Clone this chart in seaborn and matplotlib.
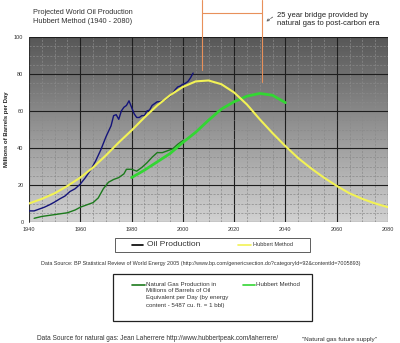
import matplotlib
matplotlib.use("Agg")
import matplotlib.pyplot as plt
import matplotlib.colors as mcolors
from matplotlib.lines import Line2D
from matplotlib.patches import Rectangle
import numpy as np
import pandas as pd
import seaborn as sns

# ---------------- data ----------------
oil_years = [1940, 1942, 1944, 1946, 1948, 1950, 1952, 1954, 1956, 1958, 1960, 1962, 1964,
             1966, 1968, 1970, 1972, 1973, 1974, 1975, 1976, 1977, 1978, 1979, 1980, 1981,
             1982, 1983, 1984, 1985, 1986, 1987, 1988, 1989, 1990, 1991, 1992, 1993, 1994,
             1995, 1996, 1997, 1998, 1999, 2000, 2001, 2002, 2003, 2004]
oil_values = [6, 6, 7, 8, 9.3, 10.8, 12.5, 14, 16.5, 18, 20.5, 24, 28,
              33, 39, 46, 52, 57.5, 58, 55.5, 60, 62, 63, 65.5, 62, 58.5,
              56.5, 56.5, 57.5, 57.5, 60, 60.5, 63, 64, 65, 65, 65.5, 66, 67,
              68, 69.5, 71.5, 73, 73.5, 74.5, 75, 76, 78, 80.5]

hub_years = [1940, 1945, 1950, 1955, 1960, 1965, 1970, 1975, 1980, 1985, 1990, 1995, 2000,
             2005, 2010, 2015, 2020, 2025, 2030, 2035, 2040, 2045, 2050, 2055, 2060, 2065,
             2070, 2075, 2080]
hub_values = [10, 12.5, 15.5, 19.5, 24, 29.5, 36, 43, 49.5, 56.5, 63, 68.5, 73,
              76, 76.5, 74.5, 70, 63.5, 55.5, 48, 41, 34.5, 29, 24, 19.5, 15.5,
              12.5, 10, 8]

gas_years = [1942, 1945, 1950, 1955, 1958, 1960, 1962, 1965, 1967, 1969, 1971, 1973, 1975,
             1977, 1978, 1980, 1982, 1984, 1986, 1988, 1990, 1992, 1994, 1996, 1998, 2000]
gas_values = [2, 3, 4, 5, 6.5, 8, 9, 10.5, 13, 18, 21.5, 23, 24,
              26, 28.5, 28.5, 27.5, 29.5, 32, 35, 37.5, 37.5, 38.5, 39.5, 42, 44]

gas_hub_years = [1980, 1985, 1990, 1995, 2000, 2005, 2010, 2015, 2020, 2025, 2030, 2035, 2040]
gas_hub_values = [24, 28, 32.5, 37, 43, 48.5, 55, 61, 65, 68, 69.5, 68.5, 64.5]

x_ticks = [1940, 1960, 1980, 2000, 2020, 2040, 2060, 2080]
y_ticks = [0, 20, 40, 60, 80, 100]

title_text = "Projected World Oil Production\nHubbert Method (1940 - 2080)"
y_label = "Millions of Barrels per Day"
bridge_text = "25 year bridge provided by\nnatural gas to post-carbon era"
source_oil = ("Data Source: BP Statistical Review of World Energy 2005 "
              "(http://www.bp.com/genericsection.do?categoryId=92&contentId=7005893)")
source_gas = "Data Source for natural gas: Jean Laherrere http://www.hubbertpeak.com/laherrere/"
gas_quote = "\"Natural gas future supply\""
gas_label = ("Natural Gas Production in\nMillions of Barrels of Oil\n"
             "Equivalent per Day (by energy\ncontent - 5487 cu. ft. = 1 bbl)")

# ---------------- style ----------------
sns.set_style("white")
plt.rcParams['font.family'] = ['Liberation Sans', 'DejaVu Sans']

W, H = 400, 343
fig = plt.figure(figsize=(W / 100, H / 100), dpi=100)
fig.patch.set_facecolor("white")


def fx(px):
    return px / W


def fy(py):
    return 1 - py / H


L, R, T, B = 29, 388, 37, 222
ax = fig.add_axes([fx(L), fy(B), (R - L) / W, (B - T) / H])

# gradient background
cmap = mcolors.LinearSegmentedColormap.from_list("bg", ["#d2d2d2", "#575757"])
grad = np.linspace(0, 1, 256).reshape(-1, 1)
ax.imshow(grad, extent=[0, 1, 0, 1], transform=ax.transAxes, aspect="auto",
          cmap=cmap, origin="lower", zorder=0)

df_oil = pd.DataFrame({"year": oil_years, "value": oil_values})
df_hub = pd.DataFrame({"year": hub_years, "value": hub_values})
df_gas = pd.DataFrame({"year": gas_years, "value": gas_values})
df_gh = pd.DataFrame({"year": gas_hub_years, "value": gas_hub_values})

c_oil = "#14147a"
c_hub = "#f2f255"
c_gas = "#1c7a1c"
c_gh = "#33d633"

sns.lineplot(data=df_gas, x="year", y="value", ax=ax, color=c_gas, lw=1.0, zorder=3)
sns.lineplot(data=df_gh, x="year", y="value", ax=ax, color=c_gh, lw=2.0, zorder=3)
sns.lineplot(data=df_oil, x="year", y="value", ax=ax, color=c_oil, lw=1.0, zorder=4)
sns.lineplot(data=df_hub, x="year", y="value", ax=ax, color=c_hub, lw=1.5, zorder=5)

ax.set_xlim(1940, 2080)
ax.set_ylim(0, 100)
ax.set_xticks(x_ticks)
ax.set_yticks(y_ticks)
ax.set_xticks(np.arange(1940, 2081, 5), minor=True)
ax.set_yticks(np.arange(0, 101, 5), minor=True)
ax.grid(which="major", color="#1e1e1e", lw=0.8, ls="-")
ax.grid(which="minor", color="#8a8a8a", lw=0.5, ls=(0, (3, 2)))
for line in ax.get_xgridlines() + ax.get_ygridlines():
    line.set_zorder(1)
ax.tick_params(axis="both", which="major", labelsize=4, colors="#333333",
               length=2, width=0.6, pad=2)
ax.tick_params(axis="both", which="minor", length=0)
ax.tick_params(axis="x", length=0, pad=3.5)
ax.set_xlabel("")
ax.set_ylabel(y_label, fontsize=4.3, fontweight="bold", color="#222222")
ax.yaxis.set_label_coords(-0.055, 0.5)
for side in ["top", "right", "bottom"]:
    ax.spines[side].set_visible(False)
ax.spines["left"].set_color("#333333")
ax.spines["left"].set_linewidth(0.6)

# title
fig.text(fx(83), fy(17), title_text, ha="center", va="center",
         fontsize=5.3, color="#333333", linespacing=1.3)

# bridge annotation (orange bracket)
orange = "#e8905a"
x1, x2 = 201.7, 261.7
fig.add_artist(Line2D([fx(x1), fx(x1)], [1, fy(70)], color=orange, lw=0.8))
fig.add_artist(Line2D([fx(x2), fx(x2)], [1, fy(81.7)], color=orange, lw=0.8))
fig.add_artist(Line2D([fx(x1), fx(x2)], [fy(13.3), fy(13.3)], color=orange, lw=0.8))
fig.text(fx(277), fy(19.5), bridge_text, ha="left", va="center",
         fontsize=5.5, color="#222222", linespacing=1.25)
ax.annotate("", xy=(fx(264), fy(23)), xytext=(fx(275), fy(15.5)),
            xycoords="figure fraction", textcoords="figure fraction",
            arrowprops=dict(arrowstyle="->", color="#444444", lw=0.5, ls="--",
                            mutation_scale=4))

# legend 1 (drawn as a boxed key)
fig.add_artist(Rectangle((fx(115), fy(252)), (310 - 115) / W, 14 / H, transform=fig.transFigure,
                         facecolor="white", edgecolor="#444444", lw=0.6))
fig.add_artist(Line2D([fx(132), fx(143)], [fy(245), fy(245)], color="black", lw=1.2))
fig.text(fx(147), fy(245), "Oil Production", ha="left", va="center",
         fontsize=6, color="#333333")
fig.add_artist(Line2D([fx(238), fx(251)], [fy(245), fy(245)], color=c_hub, lw=1.2))
fig.text(fx(253), fy(245), "Hubbert Method", ha="left", va="center",
         fontsize=4, color="#333333")

fig.text(fx(201), fy(263.5), source_oil, ha="center", va="center",
         fontsize=3.9, color="#333333")

# legend 2 (drawn as a boxed key)
fig.add_artist(Rectangle((fx(113), fy(321)), (312 - 113) / W, 47 / H, transform=fig.transFigure,
                         facecolor="white", edgecolor="#222222", lw=0.9))
fig.add_artist(Line2D([fx(132), fx(145)], [fy(285), fy(285)], color=c_gas, lw=1.2))
fig.text(fx(146), fy(281.5), gas_label, ha="left", va="top",
         fontsize=4.4, color="#333333", linespacing=1.5)
fig.add_artist(Line2D([fx(243), fx(255)], [fy(285), fy(285)], color=c_gh, lw=1.2))
fig.text(fx(256), fy(285), "Hubbert Method", ha="left", va="center",
         fontsize=4.4, color="#333333")

fig.text(fx(37), fy(339), source_gas, ha="left", va="center",
         fontsize=4.7, color="#333333")
fig.text(fx(302), fy(339), gas_quote, ha="left", va="center",
         fontsize=4.6, color="#333333")

fig.savefig("out.png", dpi=100, facecolor="white")
